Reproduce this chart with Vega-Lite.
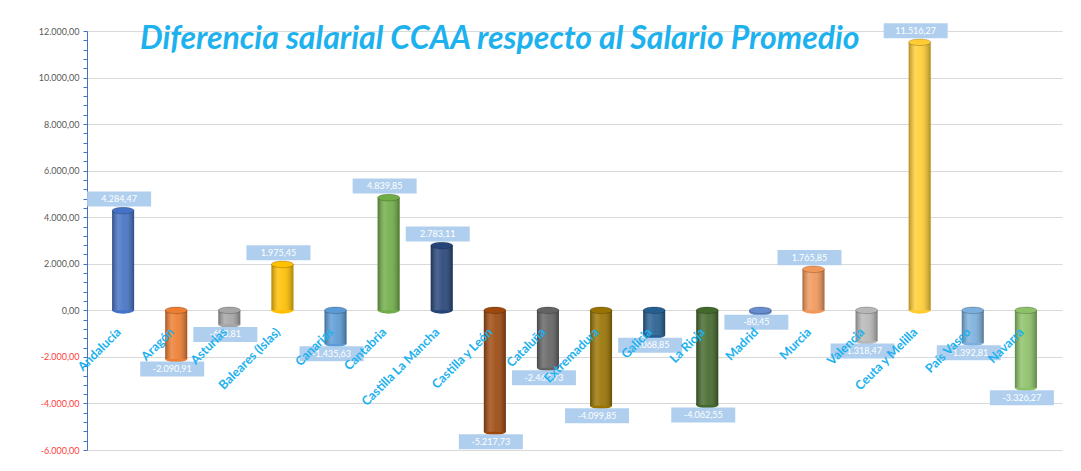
{
  "$schema": "https://vega.github.io/schema/vega-lite/v6.json",
  "width": 975,
  "height": 419,
  "autosize": {"type": "none"},
  "padding": {"left": 87, "top": 31, "right": 19, "bottom": 21},
  "background": "white",
  "title": {
    "text": "Diferencia salarial CCAA respecto al Salario Promedio",
    "anchor": "start",
    "frame": "group",
    "dx": 53,
    "dy": 58,
    "offset": 0,
    "baseline": "alphabetic",
    "font": "Lato",
    "fontSize": 32,
    "fontStyle": "italic",
    "fontWeight": "bold",
    "color": "#1DB1EE"
  },
  "config": {
    "locale": {"number": {"decimal": ",", "thousands": ".", "grouping": [3], "currency": ["", " €"], "minus": "-"}},
    "view": {"stroke": null},
    "font": "Lato"
  },
  "data": {
    "values": [
      {"region": "Andalucía", "valor": 4284.47},
      {"region": "Aragón", "valor": -2090.91},
      {"region": "Asturias", "valor": -603.81},
      {"region": "Baleares (Islas)", "valor": 1975.45},
      {"region": "Canarias", "valor": -1435.63},
      {"region": "Cantabria", "valor": 4839.85},
      {"region": "Castilla La Mancha", "valor": 2783.11},
      {"region": "Castilla y León", "valor": -5217.73},
      {"region": "Cataluña", "valor": -2462.73},
      {"region": "Extremadura", "valor": -4099.85},
      {"region": "Galicia", "valor": -1068.85},
      {"region": "La Rioja", "valor": -4062.55},
      {"region": "Madrid", "valor": -80.45},
      {"region": "Murcia", "valor": 1765.85},
      {"region": "Valencia", "valor": -1318.47},
      {"region": "Ceuta y Melilla", "valor": 11516.27},
      {"region": "País Vasco", "valor": -1392.81},
      {"region": "Navarra", "valor": -3326.27}
    ]
  },
  "encoding": {
    "x": {"field": "region", "type": "nominal", "sort": null,
      "scale": {"domain": ["Andalucía","Aragón","Asturias","Baleares (Islas)","Canarias","Cantabria","Castilla La Mancha","Castilla y León","Cataluña","Extremadura","Galicia","La Rioja","Madrid","Murcia","Valencia","Ceuta y Melilla","País Vasco","Navarra"], "paddingInner": 0, "paddingOuter": 0.18},
      "axis": null}
  },
  "layer": [
    {
      "transform": [{"filter": "datum.valor > 0"}],
      "mark": {"type": "point", "filled": true, "opacity": 1, "size": 484, "shape": "M -1 0 A 1 0.3 0 1 0 1 0 A 1 0.3 0 1 0 -1 0 Z"},
      "encoding": {
        "y": {"datum": 0, "type": "quantitative", "scale": {"domain": [-6000, 12000], "nice": false},
          "axis": {
            "values": [-6000,-5600,-5200,-4800,-4400,-4000,-3600,-3200,-2800,-2400,-2000,-1600,-1200,-800,-400,0,400,800,1200,1600,2000,2400,2800,3200,3600,4000,4400,4800,5200,5600,6000,6400,6800,7200,7600,8000,8400,8800,9200,9600,10000,10400,10800,11200,11600,12000],
            "tickCount": 100,
            "format": ",.2f",
            "labelExpr": "datum.value % 2000 === 0 ? datum.label : ''",
            "labelOverlap": false,
            "labelBound": false,
            "title": null,
            "labelFontSize": 9,
            "labelFont": "Lato",
            "labelColor": {"condition": {"test": "datum.value < 0", "value": "#FF4040"}, "value": "#595959"},
            "labelPadding": 4,
            "domainColor": "#4472C4",
            "tickColor": "#4472C4",
            "tickSize": 4,
            "grid": true,
            "gridColor": "#D9D9D9",
            "gridOpacity": {"condition": {"test": "datum.value % 2000 === 0", "value": 1}, "value": 0}
          }
        },
        "color": {"field": "region", "type": "nominal", "legend": null, "sort": null,
          "scale": {"domain": ["Andalucía","Aragón","Asturias","Baleares (Islas)","Canarias","Cantabria","Castilla La Mancha","Castilla y León","Cataluña","Extremadura","Galicia","La Rioja","Madrid","Murcia","Valencia","Ceuta y Melilla","País Vasco","Navarra"],
                    "range": ["#4472C4","#ED7D31","#A5A5A5","#FFC000","#5B9BD5","#70AD47","#264478","#9E480E","#636363","#997300","#255E91","#43682B","#698ED0","#F1975A","#B7B7B7","#FFCD33","#7CAFDD","#8CC168"]}}
      }
    },
    {
      "transform": [{"filter": "datum.valor < 0"}],
      "mark": {"type": "point", "filled": true, "opacity": 1, "size": 484, "shape": "M -1 0 A 1 0.3 0 1 0 1 0 A 1 0.3 0 1 0 -1 0 Z"},
      "encoding": {
        "y": {"field": "valor", "type": "quantitative"},
        "color": {"field": "region", "type": "nominal", "legend": null, "sort": null}
      }
    },
    {
      "mark": {"type": "bar", "width": 22},
      "encoding": {
        "y": {"field": "valor", "type": "quantitative"},
        "y2": {"datum": 0},
        "color": {"field": "region", "type": "nominal", "legend": null, "sort": null}
      }
    },
    {
      "mark": {"type": "bar", "width": 22, "fill": {"gradient": "linear", "x1": 0, "x2": 1, "y1": 0, "y2": 0, "stops": [
        {"offset": 0, "color": "rgba(0,0,0,0.30)"},
        {"offset": 0.3, "color": "rgba(255,255,255,0.18)"},
        {"offset": 0.55, "color": "rgba(255,255,255,0.08)"},
        {"offset": 1, "color": "rgba(0,0,0,0.32)"}]}},
      "encoding": {
        "y": {"field": "valor", "type": "quantitative"},
        "y2": {"datum": 0}
      }
    },
    {
      "transform": [{"filter": "datum.valor > 0"}],
      "mark": {"type": "point", "filled": true, "opacity": 1, "size": 484, "stroke": "black", "strokeOpacity": 0.25, "strokeWidth": 0.8, "shape": "M -1 0 A 1 0.3 0 1 0 1 0 A 1 0.3 0 1 0 -1 0 Z"},
      "encoding": {
        "y": {"field": "valor", "type": "quantitative"},
        "color": {"field": "region", "type": "nominal", "legend": null, "sort": null}
      }
    },
    {
      "transform": [{"filter": "datum.valor < 0"}],
      "mark": {"type": "point", "filled": true, "opacity": 1, "size": 484, "stroke": "black", "strokeOpacity": 0.25, "strokeWidth": 0.8, "shape": "M -1 0 A 1 0.3 0 1 0 1 0 A 1 0.3 0 1 0 -1 0 Z"},
      "encoding": {
        "y": {"datum": 0},
        "color": {"field": "region", "type": "nominal", "legend": null, "sort": null}
      }
    },
    {
      "transform": [{"filter": "datum.valor > 0"}],
      "mark": {"type": "point", "filled": true, "opacity": 1, "color": "#B0CFEE", "size": 4096, "shape": "M -1.125 -0.597 L 0.875 -0.597 L 0.875 -0.128 L -1.125 -0.128 Z"},
      "encoding": {"y": {"field": "valor", "type": "quantitative"}}
    },
    {
      "transform": [{"filter": "datum.valor < 0"}],
      "mark": {"type": "point", "filled": true, "opacity": 1, "color": "#B0CFEE", "size": 4096, "shape": "M -1.125 0.078 L 0.875 0.078 L 0.875 0.547 L -1.125 0.547 Z"},
      "encoding": {"y": {"field": "valor", "type": "quantitative"}}
    },
    {
      "transform": [{"filter": "datum.valor > 0"}],
      "mark": {"type": "text", "color": "white", "fontSize": 9, "font": "Lato", "dx": -4, "dy": -11.6, "baseline": "middle", "align": "center"},
      "encoding": {"y": {"field": "valor", "type": "quantitative"}, "text": {"field": "valor", "type": "quantitative", "format": ",.2f"}}
    },
    {
      "transform": [{"filter": "datum.valor < 0"}],
      "mark": {"type": "text", "color": "white", "fontSize": 9, "font": "Lato", "dx": -4, "dy": 10, "baseline": "middle", "align": "center"},
      "encoding": {"y": {"field": "valor", "type": "quantitative"}, "text": {"field": "valor", "type": "quantitative", "format": ",.2f"}}
    },
    {
      "mark": {"type": "text", "color": "#1DB1EE", "fontSize": 12.5, "fontWeight": "bold", "font": "Lato", "angle": -45, "align": "right", "baseline": "middle", "dx": -17, "dy": 11},
      "encoding": {"y": {"datum": 0}, "text": {"field": "region", "type": "nominal"}}
    }
  ]
}
